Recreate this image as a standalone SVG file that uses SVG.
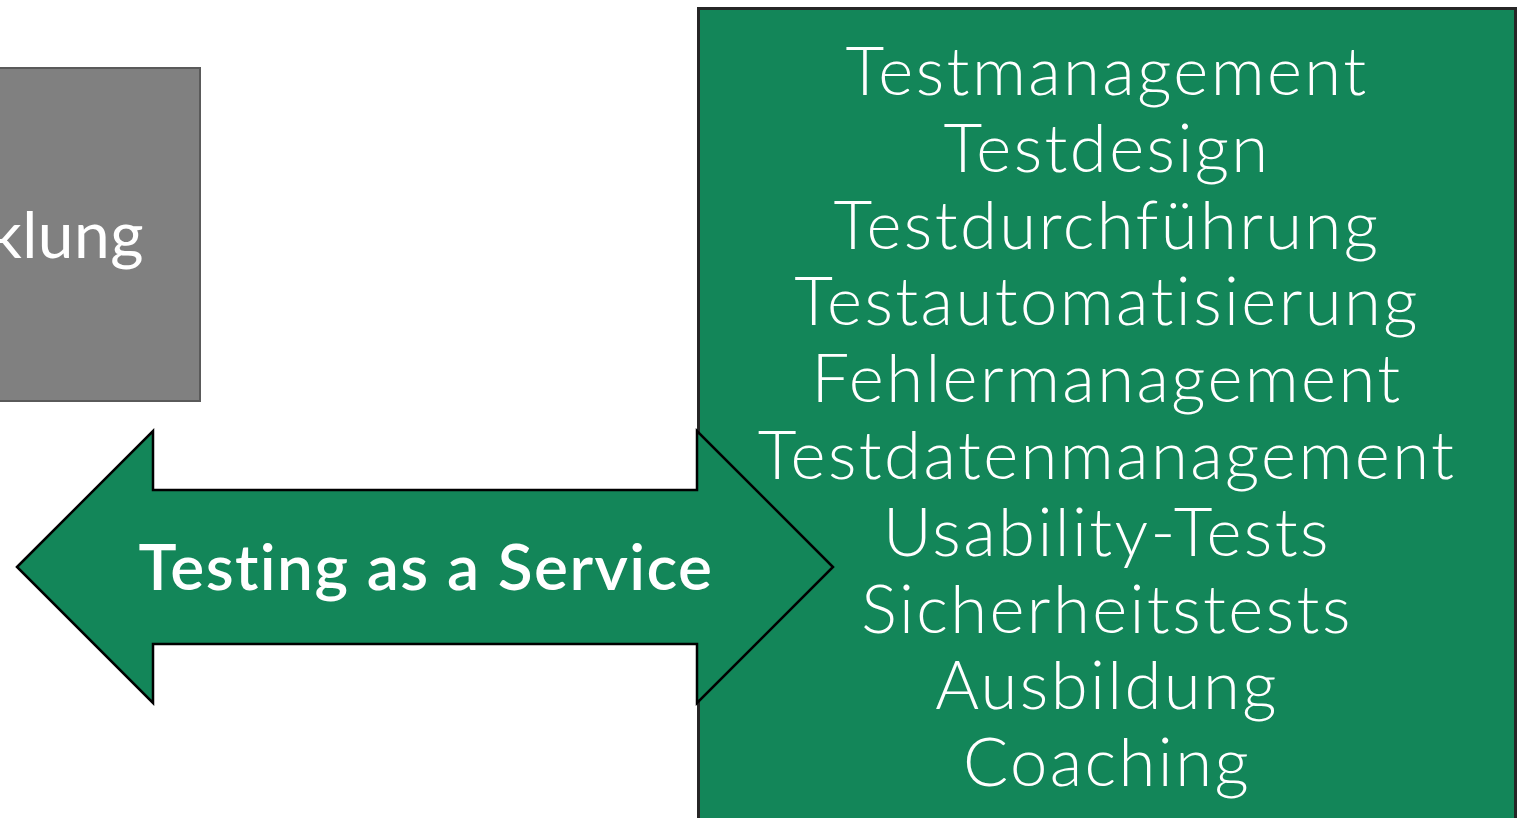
<svg xmlns="http://www.w3.org/2000/svg" width="1520" height="818" viewBox="0 0 1520 818">
<style>
.t{font-family:Lato,"Open Sans","Liberation Sans",sans-serif;fill:#fff}
.list{font-size:67px;font-weight:300;text-anchor:middle;letter-spacing:2.4px}
</style>
<rect width="1520" height="818" fill="#fff"/>
<g id="dev">
<rect x="-200" y="68" width="400" height="333" fill="#808080" stroke="#5a5a5a" stroke-width="2"/>
<text class="t" x="144" y="258" font-size="64" font-weight="400" text-anchor="end" letter-spacing="0.5">Entwicklung</text>
</g>
<g id="services">
<rect x="698.5" y="8.5" width="817" height="830" fill="#138659" stroke="#262626" stroke-width="3"/>
</g>
<g id="connectors">
<path d="M17,567 L153,431 L153,490 L697,490 L697,431 L833,567 L697,703 L697,644 L153,644 L153,703 Z" fill="#138659" stroke="#000" stroke-width="2.5" stroke-linejoin="miter"/>
<text class="t" x="426" y="590" font-size="64" font-weight="600" text-anchor="middle" letter-spacing="1.4">Testing as a Service</text>
</g>
<g id="services-text" class="t list">
<text x="1107" y="95">Testmanagement</text>
<text x="1107" y="172">Testdesign</text>
<text x="1107" y="249">Testdurchführung</text>
<text x="1107" y="325">Testautomatisierung</text>
<text x="1107" y="402">Fehlermanagement</text>
<text x="1107" y="479">Testdatenmanagement</text>
<text x="1107" y="556">Usability-Tests</text>
<text x="1107" y="633">Sicherheitstests</text>
<text x="1107" y="709">Ausbildung</text>
<text x="1107" y="786">Coaching</text>
</g>
</svg>
